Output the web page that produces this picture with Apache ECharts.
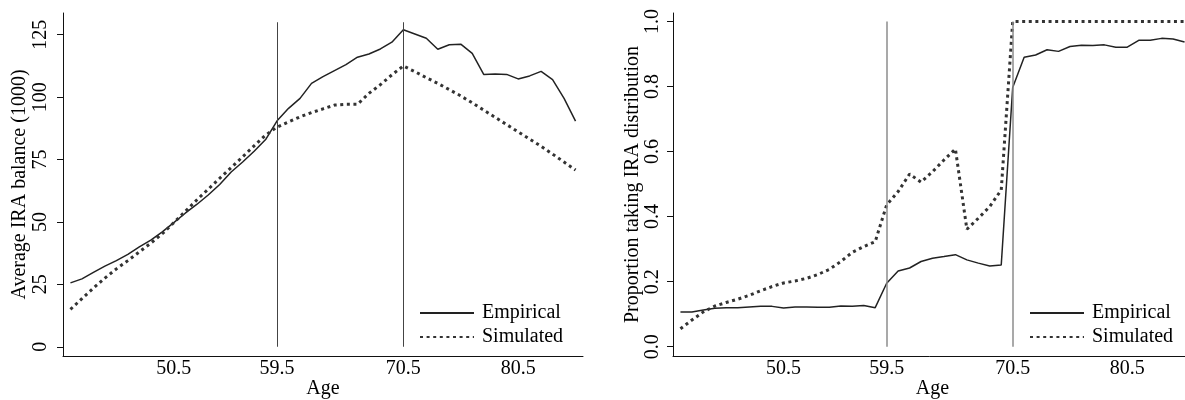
<!DOCTYPE html>
<html>
<head>
<meta charset="utf-8">
<script src="https://cdn.jsdelivr.net/npm/echarts@6/dist/echarts.min.js"></script>
<style>
html,body{margin:0;padding:0;background:#fff;}
#chart{width:1185px;height:400px;}
</style>
</head>
<body>
<div id="chart"></div>
<script>
const ages = [41.5, 42.5, 43.5, 44.5, 45.5, 46.5, 47.5, 48.5, 49.5, 50.5,
  51.5, 52.5, 53.5, 54.5, 55.5, 56.5, 57.5, 58.5, 59.5, 60.5,
  61.5, 62.5, 63.5, 64.5, 65.5, 66.5, 67.5, 68.5, 69.5, 70.5,
  71.5, 72.5, 73.5, 74.5, 75.5, 76.5, 77.5, 78.5, 79.5, 80.5,
  81.5, 82.5, 83.5, 84.5, 85.5];

const balanceEmpirical = [25.6, 27.2, 29.8, 32.3, 34.5, 37.0, 40.0, 42.7, 46.0, 49.7,
  53.5, 57.0, 60.8, 65.0, 70.0, 74.0, 78.3, 83.0, 90.5, 95.5,
  99.5, 105.5, 108.2, 110.6, 113.0, 116.0, 117.3, 119.3, 122.0, 127.0,
  125.3, 123.6, 119.2, 121.0, 121.2, 117.5, 109.1, 109.3, 109.1, 107.3,
  108.5, 110.3, 107.0, 99.5, 90.4];

const balanceSimulated = [15.0, 19.3, 23.5, 27.5, 31.2, 34.5, 38.0, 41.5, 45.3, 49.7,
  54.2, 58.8, 63.1, 67.5, 71.8, 76.1, 80.5, 84.8, 88.0, 90.1,
  92.1, 93.8, 95.3, 96.8, 97.1, 97.1, 101.5, 105.0, 108.9, 112.5,
  110.2, 107.8, 105.5, 103.0, 100.5, 97.7, 94.8, 91.9, 89.0, 86.1,
  83.2, 80.3, 77.2, 74.0, 70.8];

const distEmpirical = [0.107, 0.107, 0.113, 0.118, 0.120, 0.120, 0.122, 0.124, 0.124, 0.119,
  0.122, 0.122, 0.121, 0.121, 0.125, 0.124, 0.127, 0.120, 0.195, 0.233,
  0.242, 0.262, 0.272, 0.277, 0.283, 0.267, 0.257, 0.248, 0.251, 0.797,
  0.890, 0.897, 0.913, 0.908, 0.923, 0.927, 0.926, 0.928, 0.921, 0.921,
  0.942, 0.942, 0.948, 0.946, 0.937];

const distSimulated = [0.055, 0.082, 0.107, 0.125, 0.136, 0.146, 0.158, 0.172, 0.185, 0.196,
  0.202, 0.210, 0.222, 0.238, 0.262, 0.290, 0.308, 0.323, 0.436, 0.477,
  0.531, 0.506, 0.538, 0.574, 0.608, 0.361, 0.395, 0.431, 0.482, 1.0,
  1.0, 1.0, 1.0, 1.0, 1.0, 1.0, 1.0, 1.0, 1.0, 1.0,
  1.0, 1.0, 1.0, 1.0, 1.0];

const xTicks = [50.5, 59.5, 70.5, 80.5];
const balanceTicks = [0, 25, 50, 75, 100, 125];
const distTicks = [0, 0.2, 0.4, 0.6, 0.8, 1.0];
const refAges = [59.5, 70.5];
const balanceRefTop = 130;
const distRefTop = 1.0;
const seriesNames = ['Empirical', 'Simulated'];
const xTitle = 'Age';
const leftTitle = 'Average IRA balance (1000)';
const rightTitle = 'Proportion taking IRA distribution';

const FONT = 'Liberation Serif';
const pairs = (xs, ys) => xs.map((x, i) => [x, ys[i]]);

const solidStyle = {color: '#222', width: 1.5, type: 'solid'};
const dotStyle = {color: '#333', width: 3, type: [3, 3.6], cap: 'butt'};

function xAxisCfg(gi) {
  return {
    type: 'value', gridIndex: gi, min: 40.85, max: 86.15,
    name: xTitle, nameLocation: 'middle', nameGap: 23, nameMoveOverlap: false,
    nameTextStyle: {fontSize: 20, color: '#000', fontFamily: FONT},
    axisLine: {onZero: false, lineStyle: {color: '#111', width: 1}},
    axisTick: {show: false},
    splitLine: {show: false},
    axisLabel: {customValues: xTicks, fontSize: 20, color: '#000', fontFamily: FONT, margin: 3}
  };
}
function yAxisCfg(gi, min, max, ticks, title, labelMargin, nameGap, fmt) {
  return {
    type: 'value', gridIndex: gi, min: min, max: max,
    name: title, nameLocation: 'middle', nameGap: nameGap, nameMoveOverlap: false,
    nameTextStyle: {fontSize: 20, color: '#000', fontFamily: FONT},
    axisLine: {onZero: false, lineStyle: {color: '#111', width: 1}},
    axisTick: {show: true, customValues: ticks, length: 6, lineStyle: {color: '#111'}},
    splitLine: {show: false},
    axisLabel: {customValues: ticks, rotate: 90, fontSize: 20, color: '#000', fontFamily: FONT,
      margin: labelMargin, formatter: fmt}
  };
}
function refLines(top, color, width) {
  return {
    silent: true, symbol: ['none', 'none'], label: {show: false},
    lineStyle: {color: color, width: width, type: 'solid'},
    emphasis: {disabled: true},
    data: refAges.map(a => [{coord: [a, 0]}, {coord: [a, top]}])
  };
}
function legendCfg(left) {
  return {
    data: seriesNames, orient: 'vertical', left: left, top: 298,
    itemWidth: 54, itemHeight: 14, itemGap: 4, selectedMode: false,
    itemStyle: {opacity: 0},
    textStyle: {fontSize: 20, color: '#000', fontFamily: FONT, padding: [0, 0, 0, 3]}
  };
}

const option = {
  animation: false,
  backgroundColor: '#fff',
  textStyle: {fontFamily: FONT},
  grid: [
    {left: 63, top: 13, width: 520, height: 343, outerBoundsMode: 'none', containLabel: false},
    {left: 673, top: 13, width: 519, height: 343, outerBoundsMode: 'none', containLabel: false}
  ],
  xAxis: [xAxisCfg(0), xAxisCfg(1)],
  yAxis: [
    yAxisCfg(0, -3.7, 133.7, balanceTicks, leftTitle, 12, 33, v => String(v)),
    yAxisCfg(1, -0.0286, 1.026, distTicks, rightTitle, 10, 30, v => v.toFixed(1))
  ],
  legend: [legendCfg(414), legendCfg(1024)],
  series: [
    {name: seriesNames[0], type: 'line', xAxisIndex: 0, yAxisIndex: 0, symbol: 'none',
     data: pairs(ages, balanceEmpirical), lineStyle: solidStyle, itemStyle: {color: '#222'},
     markLine: refLines(balanceRefTop, '#444', 1)},
    {name: seriesNames[1], type: 'line', xAxisIndex: 0, yAxisIndex: 0, symbol: 'none',
     data: pairs(ages, balanceSimulated), lineStyle: dotStyle, itemStyle: {color: '#333'}},
    {name: seriesNames[0], type: 'line', xAxisIndex: 1, yAxisIndex: 1, symbol: 'none',
     data: pairs(ages, distEmpirical), lineStyle: solidStyle, itemStyle: {color: '#222'},
     markLine: refLines(distRefTop, '#8c8c8c', 1.5)},
    {name: seriesNames[1], type: 'line', xAxisIndex: 1, yAxisIndex: 1, symbol: 'none',
     data: pairs(ages, distSimulated), lineStyle: dotStyle, itemStyle: {color: '#333'}}
  ]
};

const chart = echarts.init(document.getElementById('chart'), null, {renderer: 'canvas'});
chart.setOption(option);
</script>
</body>
</html>
